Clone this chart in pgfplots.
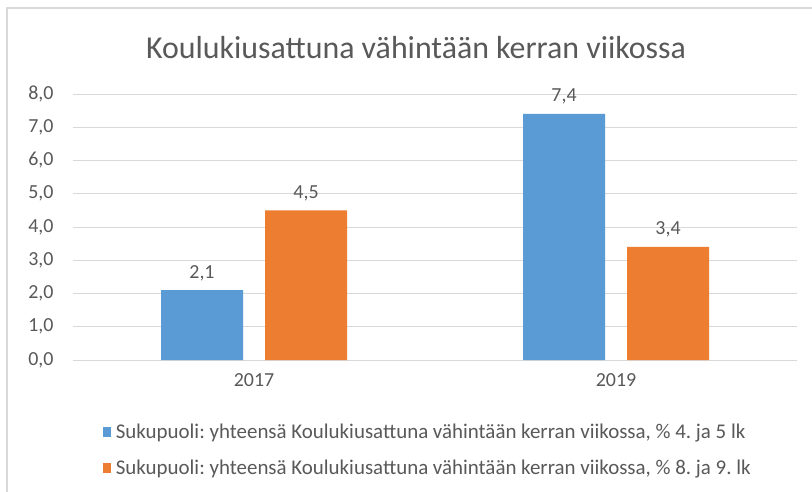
\documentclass[border=0pt]{standalone}
\usepackage{fontspec}
\setmainfont{Carlito}
\usepackage{pgfplots}
\pgfplotsset{compat=1.18}
\definecolor{cblue}{HTML}{5B9BD5}
\definecolor{corange}{HTML}{ED7D31}
\definecolor{cgrid}{HTML}{D9D9D9}
\definecolor{ctext}{HTML}{595959}
\frenchspacing
\begin{document}
\begin{tikzpicture}
\fill[white] (-73bp,-132bp) rectangle (739bp,360bp);
\path[use as bounding box] (-73bp,-132bp) rectangle (739bp,360bp);
\draw[cgrid, line width=1.5bp] (-66bp,-132bp) -- (-66bp,352bp) -- (739bp,352bp);
\begin{axis}[
  at={(0,0)}, anchor=south west,
  scale only axis, width=724bp, height=266bp,
  xmin=-0.5, xmax=1.5, ymin=0, ymax=8,
  ybar=22bp, bar width=82bp,
  xtick={0,1}, xticklabels={2017,2019},
  ytick={0,1,...,8},
  ymajorgrids, grid style={cgrid, line width=1bp},
  axis line style={draw=none},
  major tick length=0pt,
  tick label style={font=\fontsize{20}{24}\selectfont, text=ctext},
  /pgf/number format/assume math mode=true,
  yticklabel={\pgfmathprintnumber[use comma,fixed,fixed zerofill,precision=1]{\tick}},
  yticklabel style={xshift=-16bp},
  xticklabel style={yshift=-10bp},
  nodes near coords={\pgfmathprintnumber[use comma,fixed,fixed zerofill,precision=1]{\pgfplotspointmeta}},
  nodes near coords style={font=\fontsize{20}{24}\selectfont, text=ctext, anchor=south, yshift=6bp},
  legend style={at={(axis description cs:0.041,-0.233)}, anchor=north west, draw=none, fill=none,
    font=\fontsize{21}{25}\selectfont, text=ctext, cells={anchor=west}, row sep=16bp, inner sep=0pt},
  clip=false,
]
\addplot[fill=cblue, draw=none, legend image code/.code={\fill[cblue] (0bp,-5bp) rectangle (8bp,5bp); \path (11bp,0bp);}] coordinates {(0,2.1) (1,7.4)};
\addplot[fill=corange, draw=none, legend image code/.code={\fill[corange] (0bp,-5bp) rectangle (8bp,5bp); \path (11bp,0bp);}] coordinates {(0,4.5) (1,3.4)};
\legend{{Sukupuoli: yhteensä Koulukiusattuna vähintään kerran viikossa, \% 4. ja 5 lk},
        {Sukupuoli: yhteensä Koulukiusattuna vähintään kerran viikossa, \% 8. ja 9. lk}}
\end{axis}
\node[text=ctext, font=\fontsize{32}{36}\selectfont] at (343bp,312bp) {Koulukiusattuna vähintään kerran viikossa};
\end{tikzpicture}
\end{document}
